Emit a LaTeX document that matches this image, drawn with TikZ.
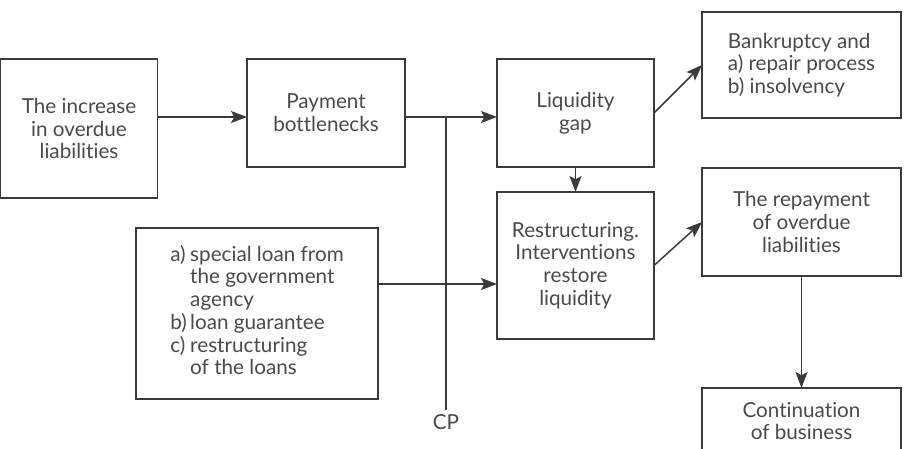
\documentclass[tikz,border=0pt]{standalone}
\usepackage{fontspec}
\setmainfont{Lato}[Ligatures={NoCommon}]
\usepackage{tikz}
\usetikzlibrary{arrows.meta,positioning}

\definecolor{linegray}{HTML}{3A3A3A}
\definecolor{textgray}{HTML}{4A4A4A}

\begin{document}
\begin{tikzpicture}[
  x=0.75pt, y=-0.75pt,
  box/.style={rectangle, draw=linegray, line width=1pt, inner sep=0pt, outer sep=0pt,
    align=center, text=textgray, font=\fontsize{15.5}{17}\selectfont},
  link/.style={draw=linegray, line width=1.1pt},
  arrow/.style={link, -{Stealth[length=12pt, width=9pt, inset=2.5pt]}}
]
  \useasboundingbox (0,0) rectangle (910,449);

  % first row
  \node[box, minimum width=117.75pt, minimum height=104.25pt] (incr) at (79,128.5)
    {The increase\\in overdue\\liabilities};
  \node[box, minimum width=118.5pt, minimum height=81pt] (pay) at (326,113)
    {Payment\\bottlenecks};
  \node[box, minimum width=117.75pt, minimum height=81pt] (gap) at (575.5,113)
    {Liquidity\\gap};
  \node[box, minimum width=149.25pt, minimum height=79.5pt, align=left] (bank) at (801.5,65)
    {Bankruptcy and\\a) repair process\\b) insolvency};

  % second row
  \node[box, minimum width=117.75pt, minimum height=110.25pt] (restr) at (575.5,265.5)
    {Restructuring.\\Interventions\\restore\\liquidity};
  \node[box, minimum width=149.25pt, minimum height=81pt] (repay) at (801.5,222)
    {The repayment\\of overdue\\liabilities};
  \node[box, minimum width=181.5pt, minimum height=128.25pt] (loans) at (257,313.5)
    {\begin{tabular}{@{}l@{\,}l@{}}
      a) & special loan from\\
         & the government\\
         & agency\\
      b) & loan guarantee\\
      c) & restructuring\\
         & of the loans
    \end{tabular}};
  \node[box, line width=1.5pt, minimum width=149.25pt, minimum height=49.5pt] (cont) at (801.5,421)
    {Continuation\\of business};

  \node[text=textgray, font=\fontsize{15.5}{17}\selectfont] (cp) at (446,422) {CP};

  % connectors
  \coordinate (row) at (0,117);
  \coordinate (fork) at (446,117);
  \coordinate (loanrow) at (0,284);
  \draw[arrow] (incr.east |- row) -- (pay.west |- row);
  \draw[arrow] (pay.east |- row) -- (gap.west |- row);
  \draw[link] (fork) -- (cp.north);
  \draw[arrow] (loans.east |- loanrow) -- (restr.west |- loanrow);
  \draw[arrow] (gap.south) -- (restr.north);
  \draw[arrow] (gap.east) -- (bank.west);
  \draw[arrow] (restr.east) -- (repay.west);
  \draw[arrow] (repay.south) -- (cont.north);
\end{tikzpicture}
\end{document}
